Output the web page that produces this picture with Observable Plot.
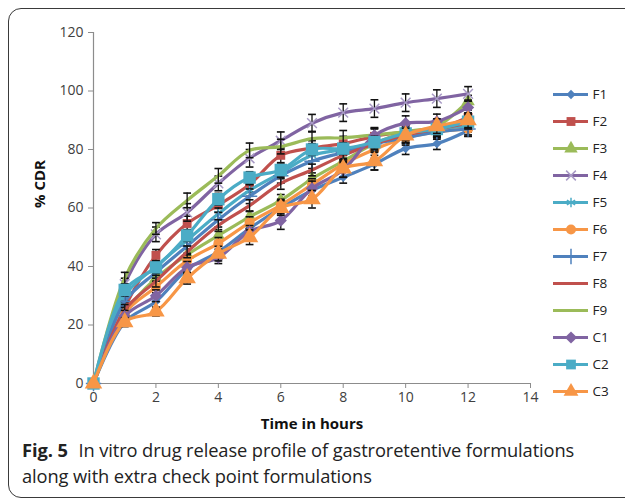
<!DOCTYPE html>
<html>
<head>
<meta charset="utf-8">
<script src="https://cdn.jsdelivr.net/npm/d3@7"></script>
<script src="https://cdn.jsdelivr.net/npm/@observablehq/plot@0.6"></script>
<style>
  html, body { margin: 0; padding: 0; background: #fff; overflow: hidden; }
  body { width: 625px; height: 499px; position: relative; font-family: "Open Sans", sans-serif; }
  #frame { position: absolute; left: 8px; top: 8px; width: 700px; height: 488px; border: 1.3px solid #3a3a3a; border-radius: 13px; }
  #chart { position: absolute; left: 0; top: 0; }
  #legend { position: absolute; left: 545px; top: 60px; }
  #caption { position: absolute; left: 22px; top: 437px; font-size: 18.3px; line-height: 26px; color: #222; font-family: "Open Sans", sans-serif; letter-spacing: -0.1px; white-space: nowrap; }
  #caption b { font-weight: 700; margin-right: 6px; }
</style>
</head>
<body>
<div id="frame"></div>
<div id="chart"></div>
<div id="legend"></div>
<div id="caption"><b>Fig. 5</b> In vitro drug release profile of gastroretentive formulations<br>along with extra check point formulations</div>
<script>
// ---- data ----
const time = [0, 1, 2, 3, 4, 5, 6, 7, 8, 9, 10, 11, 12];
const seriesNames = ["F1", "F2", "F3", "F4", "F5", "F6", "F7", "F8", "F9", "C1", "C2", "C3"];

const F1 = [0, 21, 28, 39, 45, 53, 60, 66, 70.5, 75, 80.3, 82, 86.5];
const F2 = [0, 26, 43.8, 54.7, 61, 68, 78, 80.5, 82, 84.5, 86, 87, 91];
const F3 = [0, 24, 36, 44, 50.6, 57, 62.6, 70, 76, 82, 86, 88, 96.5];
const F4 = [0, 34, 51, 58.5, 68.4, 77, 83, 89, 92.6, 94, 96, 97.4, 99];
const F5 = [0, 30, 40, 49, 58, 66, 72, 78, 80, 82, 85, 87, 88];
const F6 = [0, 24, 33, 42, 47.9, 55, 61, 68, 75, 80, 84, 86, 87];
const F7 = [0, 28, 38, 47, 56, 64, 71, 76, 79, 82, 84, 86, 87];
const F8 = [0, 25, 35, 45, 54, 60.8, 68.4, 73, 78, 82, 85, 87, 89];
const F9 = [0, 36, 53, 62.6, 71, 79.7, 81, 83.7, 84, 85, 86, 87, 90];
const C1 = [0, 23, 30, 39.7, 43, 52, 55.7, 66.7, 73, 84.8, 89, 89.6, 94.4];
const C2 = [0, 32, 39.7, 50.6, 63, 70.4, 73, 80, 80.3, 82.5, 85.5, 87, 89.5];
const C3 = [0, 21, 24.6, 36, 44.4, 50, 60, 63, 73.5, 76, 84.8, 88, 90];

// standard deviations (error bars)
const F1sd = [0, 1.5, 2, 2, 2, 2, 2, 2, 2, 2, 2, 2, 2];
const F2sd = [0, 2, 2, 2.5, 2.5, 2.5, 2.5, 2.5, 2.5, 2.5, 2.5, 2.5, 2.5];
const F3sd = [0, 2, 2, 2, 2, 2, 2, 2, 2, 2, 2, 2, 2];
const F4sd = [0, 2, 2.5, 3, 2.5, 3, 3, 3, 3, 3, 3, 3, 2.5];
const F5sd = [0, 2, 2, 2, 2, 2, 2, 2, 2, 2, 2, 2, 2];
const F6sd = [0, 2, 2, 2, 2, 2, 2, 2, 2, 2, 2, 2, 2];
const F7sd = [0, 2, 2, 2.5, 2.5, 2.5, 2.5, 2.5, 2.5, 2.5, 2.5, 2.5, 2.5];
const F8sd = [0, 2, 2, 2, 2, 2, 2, 2, 2, 2, 2, 2, 2];
const F9sd = [0, 2, 2, 2.5, 2.5, 2.5, 2.5, 2.5, 2.5, 2.5, 2.5, 2.5, 2.5];
const C1sd = [0, 2, 2, 2, 2, 2, 3, 2.5, 2.5, 2.5, 2.5, 2.5, 2.5];
const C2sd = [0, 2, 2, 2, 2, 2, 2, 2, 2, 2, 2, 2, 2];
const C3sd = [0, 1.5, 1.5, 2, 2.5, 2.5, 2.5, 3, 3, 3, 2.5, 2.5, 2.5];

const xTicks = [0, 2, 4, 6, 8, 10, 12, 14];
const yTicks = [0, 20, 40, 60, 80, 100, 120];

// ---- styles ----
const seriesValues = [F1, F2, F3, F4, F5, F6, F7, F8, F9, C1, C2, C3];
const seriesSD = [F1sd, F2sd, F3sd, F4sd, F5sd, F6sd, F7sd, F8sd, F9sd, C1sd, C2sd, C3sd];
const colors = ["#4F81BD", "#C0504D", "#9BBB59", "#8064A2", "#4BACC6", "#F79646",
                "#4F81BD", "#C0504D", "#9BBB59", "#8064A2", "#4BACC6", "#F79646"];
const symbols = ["diamond2", "square", "triangle", "times", "asterisk", "circle",
                 "plus", null, null, "diamond2", "square", "triangle"];
const markerR = [4.2, 5, 5, 4.5, 4.5, 5, 5, 0, 0, 5.5, 7, 6.5];
const filled = s => ["diamond2", "square", "triangle", "circle"].includes(s);

const capSymbol = {
  draw(context, size) {
    const w = Math.sqrt(size) / 2;
    context.moveTo(-w, 0);
    context.lineTo(w, 0);
  }
};

const rows = seriesNames.map((name, i) =>
  time.map((t, j) => ({ series: name, t, v: seriesValues[i][j], sd: seriesSD[i][j] }))
);

const fontFam = "'Open Sans', sans-serif";

const marks = [
  Plot.ruleX([0], { stroke: "#8c8c8c", strokeWidth: 1.2 }),
  Plot.ruleY([0], { stroke: "#8c8c8c", strokeWidth: 1.2 }),
  Plot.axisY(yTicks, { tickSize: 5, tickPadding: 5, stroke: "#8c8c8c", fill: "#404040", fontSize: 14, label: null }),
  Plot.axisX(xTicks, { tickSize: 5, tickPadding: 4, stroke: "#8c8c8c", fill: "#404040", fontSize: 14, label: null }),
  Plot.text(["% CDR"], { frameAnchor: "left", rotate: -90, dx: -53, fontSize: 15, fontWeight: "bold", fill: "#111" }),
  Plot.text(["Time in hours"], { frameAnchor: "bottom", dy: 45, fontSize: 15, fontWeight: "bold", fill: "#111" })
];

rows.forEach((data, i) => {
  marks.push(Plot.line(data, { x: "t", y: "v", stroke: colors[i], strokeWidth: 3.2, curve: "catmull-rom" }));
  const eb = data.filter(d => d.sd > 0);
  marks.push(Plot.ruleX(eb, { x: "t", y1: d => d.v - d.sd, y2: d => d.v + d.sd, stroke: "#111", strokeWidth: 1.3 }));
  marks.push(Plot.dot(eb, { x: "t", y: d => d.v - d.sd, symbol: capSymbol, r: 4.4, stroke: "#111", strokeWidth: 1.6 }));
  marks.push(Plot.dot(eb, { x: "t", y: d => d.v + d.sd, symbol: capSymbol, r: 4.4, stroke: "#111", strokeWidth: 1.6 }));
  if (symbols[i]) {
    const s = symbols[i];
    marks.push(Plot.dot(data, filled(s)
      ? { x: "t", y: "v", symbol: s, r: markerR[i], fill: colors[i], stroke: "none" }
      : { x: "t", y: "v", symbol: s, r: markerR[i], stroke: i === 3 ? "#a99bc6" : colors[i], strokeWidth: 1.5, fill: "none" }));
  }
});

const chart = Plot.plot({
  width: 625,
  height: 440,
  marginLeft: 93,
  marginRight: 95,
  marginTop: 32,
  marginBottom: 57,
  style: { fontFamily: fontFam, background: "transparent" },
  x: { domain: [0, 14] },
  y: { domain: [0, 120] },
  marks
});
document.getElementById("chart").appendChild(chart);

// ---- legend ----
const legendRows = seriesNames.map((name, i) => ({ name, color: colors[i], symbol: symbols[i], r: markerR[i], i }));
const legendMarks = [
  Plot.ruleY(legendRows, { y: "name", x1: 0, x2: 1, stroke: "color", strokeWidth: 3.2 }),
  Plot.text(legendRows, { y: "name", x: 1, text: "name", dx: 4, textAnchor: "start", fontSize: 13.5, fill: "#222" })
];
legendRows.forEach(d => {
  if (!d.symbol) return;
  legendMarks.push(Plot.dot([d], filled(d.symbol)
    ? { y: "name", x: 0.5, symbol: d.symbol, r: Math.min(d.r, 5.5), fill: d.color, stroke: "none" }
    : { y: "name", x: 0.5, symbol: d.symbol, r: d.r, stroke: d.i === 3 ? "#a99bc6" : d.color, strokeWidth: 1.5, fill: "none" }));
});
const legend = Plot.plot({
  width: 80,
  height: 365,
  marginLeft: 8,
  marginRight: 37,
  marginTop: 16,
  marginBottom: 16,
  style: { fontFamily: fontFam, background: "transparent", overflow: "visible" },
  x: { domain: [0, 1], axis: null },
  y: { type: "point", domain: seriesNames, axis: null },
  color: { type: "identity" },
  marks: legendMarks
});
document.getElementById("legend").appendChild(legend);
</script>
</body>
</html>
